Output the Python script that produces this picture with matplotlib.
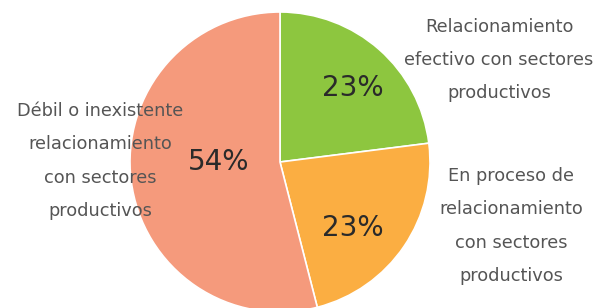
import matplotlib.pyplot as plt

plt.rcParams['font.family'] = ['DejaVu Sans']

categories = [
    'Relacionamiento\nefectivo con sectores\nproductivos',
    'En proceso de\nrelacionamiento\ncon sectores\nproductivos',
    'Débil o inexistente\nrelacionamiento\ncon sectores\nproductivos',
]
shares = [23, 23, 54]
colors = ['#8dc63f', '#fbae42', '#f59a7c']

W, H = 599, 308
fig = plt.figure(figsize=(W / 100, H / 100), dpi=100)

# pie centre at (280, 162) px, radius 150 px
cx, cy, r = 280, 162, 150
ax = fig.add_axes([(cx - r) / W, 1 - (cy + r) / H, 2 * r / W, 2 * r / H])
wedges, _, pcts = ax.pie(shares, colors=colors, startangle=90, counterclock=False,
                         autopct='%d%%', pctdistance=0.68,
                         wedgeprops={'edgecolor': 'white', 'linewidth': 1.2},
                         textprops={'fontsize': 20, 'color': '#2a2a2a'})
ax.set_xlim(-1, 1)
ax.set_ylim(-1, 1)
ax.set_aspect('equal')

# nudge the percentages to where the original has them
for t, (px, py) in zip(pcts, [(353, 88), (353, 228), (219, 162)]):
    t.set_position(((px - cx) / r, (cy - py) / r))
    t.set_zorder(5)

# category labels, placed in pixel coords
for txt, (px, py) in zip(categories, [(499, 60), (511, 226), (100, 161)]):
    fig.text(px / W, 1 - py / H, txt, ha='center', va='center',
             fontsize=12.8, color='#555555', linespacing=2.08, zorder=6)

fig.savefig('out.png', dpi=100)
